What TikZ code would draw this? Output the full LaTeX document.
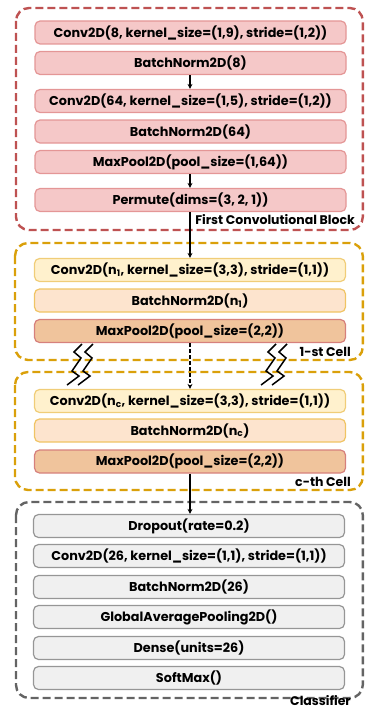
\documentclass[tikz,border=0pt]{standalone}
\usepackage{fontspec}
\setmainfont{Poppins}
\usetikzlibrary{arrows.meta}
\definecolor{redout}{RGB}{190,82,82}
\definecolor{redfill}{RGB}{245,200,200}
\definecolor{redline}{RGB}{228,150,150}
\definecolor{yelout}{RGB}{218,160,10}
\definecolor{convfill}{RGB}{255,241,205}
\definecolor{convline}{RGB}{240,205,120}
\definecolor{bnfill}{RGB}{253,228,206}
\definecolor{bnline}{RGB}{240,196,100}
\definecolor{mpfill}{RGB}{240,196,156}
\definecolor{mpline}{RGB}{214,128,124}
\definecolor{greyout}{RGB}{100,100,100}
\definecolor{greyfill}{RGB}{240,240,240}
\definecolor{greyline}{RGB}{150,150,150}
\tikzset{
  layer/.style={draw, line width=1.2pt, rounded corners=5pt, minimum width=311pt, minimum height=23pt, inner sep=0pt, font=\fontsize{12.8}{14}\selectfont\bfseries},
  redbox/.style={layer, fill=redfill, draw=redline},
  convbox/.style={layer, fill=convfill, draw=convline},
  bnbox/.style={layer, fill=bnfill, draw=bnline},
  mpbox/.style={layer, fill=mpfill, draw=mpline},
  greybox/.style={layer, fill=greyfill, draw=greyline},
  group/.style={line width=2.4pt, rounded corners=13pt, dash pattern=on 8pt off 4pt},
  grouplabel/.style={anchor=east, inner sep=0pt, font=\fontsize{12.5}{14}\selectfont\bfseries},
  flow/.style={line width=1.1pt, -{Stealth[length=5pt,width=5pt]}},
  zig/.style={line width=1.5pt, line join=miter}
}
\begin{document}
\begin{tikzpicture}[x=1pt,y=-1pt]
\useasboundingbox (0,0) rectangle (364,709);
% group frames
\draw[group, draw=redout] (16,8) rectangle (362.8,230);
\draw[group, draw=yelout] (15,243) rectangle (362.8,360);
\draw[group, draw=yelout] (15,372) rectangle (362.8,490);
\draw[group, draw=greyout] (16,502) rectangle (362.8,698);
% first block
\node[redbox] (c1) at (190.5,32.5) {Conv2D(8, kernel\_size=(1,9), stride=(1,2))};
\node[redbox] (b1) at (190.5,63) {BatchNorm2D(8)};
\node[redbox] (c2) at (190.5,101) {Conv2D(64, kernel\_size=(1,5), stride=(1,2))};
\node[redbox] (b2) at (190.5,131.5) {BatchNorm2D(64)};
\node[redbox] (m1) at (190.5,162) {MaxPool2D(pool\_size=(1,64))};
\node[redbox] (p1) at (190.5,200) {Permute(dims=(3, 2, 1))};
\node[grouplabel] (l1) at (355,220) {First Convolutional Block};
% cell 1
\node[convbox] (cc1) at (190,270) {Conv2D(n\textsubscript{1}, kernel\_size=(3,3), stride=(1,1))};
\node[bnbox] (cb1) at (190,300.5) {BatchNorm2D(n\textsubscript{1})};
\node[mpbox] (cm1) at (190,331) {MaxPool2D(pool\_size=(2,2))};
\node[grouplabel] (l2) at (351,352) {1-st Cell};
% cell c
\node[convbox] (ccc) at (190,401) {Conv2D(n\textsubscript{c}, kernel\_size=(3,3), stride=(1,1))};
\node[bnbox] (cbc) at (190,430.5) {BatchNorm2D(n\textsubscript{c})};
\node[mpbox] (cmc) at (190,461.5) {MaxPool2D(pool\_size=(2,2))};
\node[grouplabel] (l3) at (351,482) {c-th Cell};
% classifier
\node[greybox] (d1) at (189,526) {Dropout(rate=0.2)};
\node[greybox] (d2) at (189,556) {Conv2D(26, kernel\_size=(1,1), stride=(1,1))};
\node[greybox] (d3) at (189,587) {BatchNorm2D(26)};
\node[greybox] (d4) at (189,617) {GlobalAveragePooling2D()};
\node[greybox] (d5) at (189,648) {Dense(units=26)};
\node[greybox] (d6) at (189,678) {SoftMax()};
\node[grouplabel] (l4) at (351,700.5) {Classifier};
% connectors
\draw[flow] (b1.south -| 190,0) -- (c2.north -| 190,0);
\draw[flow] (m1.south -| 190,0) -- (p1.north -| 190,0);
\draw[flow] (p1.south -| 190,0) -- (cc1.north -| 190,0);
\draw[flow, dash pattern=on 4pt off 2pt] (cm1.south -| 190,0) -- (ccc.north -| 190,0);
\draw[flow] (cmc.south -| 190,0) -- (d1.north -| 190,0);
% zigzag breaks
\foreach \x in {82,93,276,287}{
  \draw[zig] (\x,344) -- ++(-8,8) -- ++(7,6) -- ++(-9,13) -- ++(7,5) -- ++(-12,9);
}
\end{tikzpicture}
\end{document}
